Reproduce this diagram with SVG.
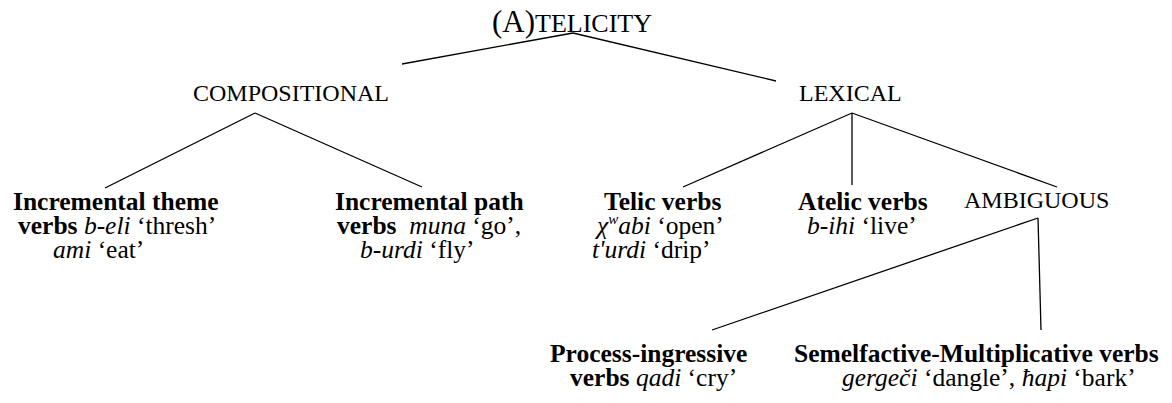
<svg xmlns="http://www.w3.org/2000/svg" width="1172" height="403" viewBox="0 0 1172 403">
<style>
text{font-family:"Liberation Serif","Times New Roman",serif;fill:#000;}
.cap{font-size:24px;}
.t{font-size:25.5px;}
.b{font-weight:bold;}
.i{font-style:italic;}
.edge{stroke:#000;stroke-width:1.3;fill:none;}
</style>
<rect width="1172" height="403" fill="#fff"/>
<g id="connectors">
<line class="edge" x1="573" y1="33" x2="402" y2="64"/>
<line class="edge" x1="573" y1="33" x2="776" y2="81"/>
<line class="edge" x1="255" y1="113" x2="105" y2="188"/>
<line class="edge" x1="255" y1="113" x2="422" y2="187"/>
<line class="edge" x1="852" y1="113" x2="683" y2="187"/>
<line class="edge" x1="852" y1="113" x2="852" y2="185"/>
<line class="edge" x1="852" y1="113" x2="1057" y2="187"/>
<line class="edge" x1="1038" y1="218" x2="712" y2="330"/>
<line class="edge" x1="1038" y1="218" x2="1041" y2="330"/>
</g>
<g id="telicity"><text x="492" y="32"><tspan font-size="31">(A)</tspan><tspan font-size="26">TELICITY</tspan></text></g>
<g id="compositional"><text class="cap" x="193" y="101">COMPOSITIONAL</text></g>
<g id="lexical"><text class="cap" x="799" y="101">LEXICAL</text></g>
<g id="incremental-theme">
<text class="t b" x="13" y="210">Incremental theme</text>
<text class="t" x="18" y="234" xml:space="preserve"><tspan class="b">verbs</tspan> <tspan class="i">b-eli</tspan> ‘thresh’</text>
<text class="t" x="53" y="258" xml:space="preserve"><tspan class="i">ami</tspan> ‘eat’</text>
</g>
<g id="incremental-path">
<text class="t b" x="335" y="210">Incremental path</text>
<text class="t" x="337" y="234" xml:space="preserve"><tspan class="b">verbs</tspan>  <tspan class="i">muna</tspan> ‘go’,</text>
<text class="t" x="360" y="258" xml:space="preserve"><tspan class="i">b-urdi</tspan> ‘fly’</text>
</g>
<g id="telic">
<text class="t b" x="604" y="210">Telic verbs</text>
<text class="t" x="597" y="234" xml:space="preserve"><tspan class="i">χ</tspan><tspan class="i" font-size="15" dy="-10">w</tspan><tspan class="i" dy="10">abi</tspan> ‘open’</text>
<text class="t" x="592" y="258" xml:space="preserve"><tspan class="i">t'urdi</tspan> ‘drip’</text>
</g>
<g id="atelic">
<text class="t b" x="798" y="210">Atelic verbs</text>
<text class="t" x="807" y="234" xml:space="preserve"><tspan class="i">b-ihi</tspan> ‘live’</text>
</g>
<g id="ambiguous"><text class="cap" x="964" y="208">AMBIGUOUS</text></g>
<g id="process-ingressive">
<text class="t b" x="550" y="362">Process-ingressive</text>
<text class="t" x="570" y="386" xml:space="preserve"><tspan class="b">verbs</tspan> <tspan class="i">qadi</tspan> ‘cry’</text>
</g>
<g id="semelfactive">
<text class="t b" x="794" y="362">Semelfactive-Multiplicative verbs</text>
<text class="t" x="842" y="386" xml:space="preserve"><tspan class="i">gergeči</tspan> ‘dangle’, <tspan class="i">ħapi</tspan> ‘bark’</text>
</g>
</svg>
